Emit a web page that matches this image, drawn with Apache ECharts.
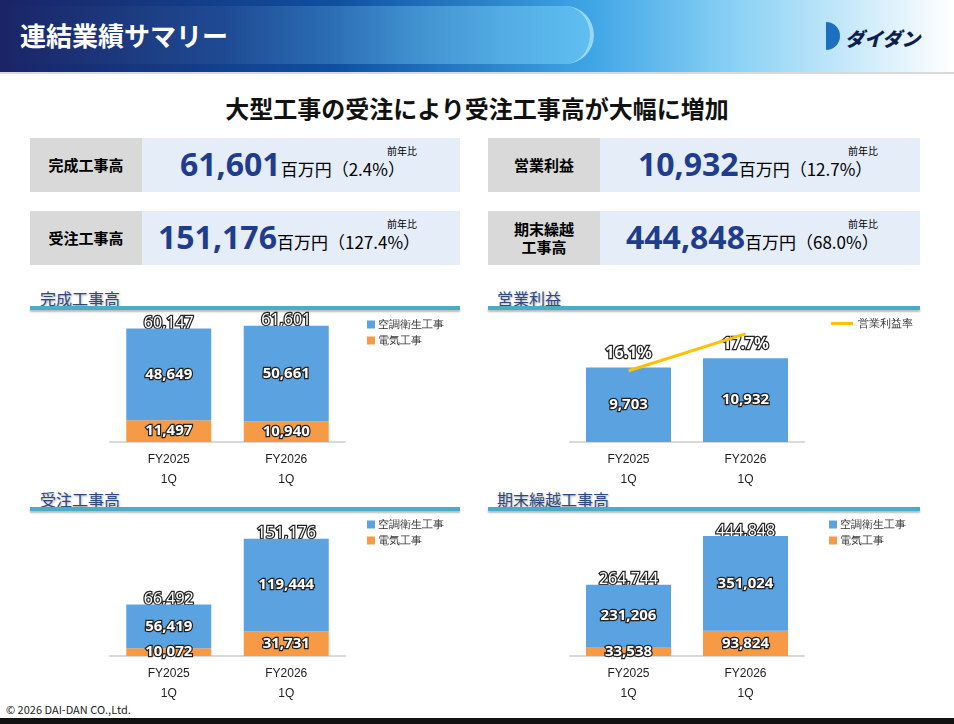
<!DOCTYPE html>
<html><head><meta charset="utf-8">
<script src="https://cdn.jsdelivr.net/npm/echarts@6/dist/echarts.min.js"></script>
<style>
body{margin:0;width:954px;height:724px;position:relative;background:#fff;font-family:"Noto Sans CJK JP","Noto Sans",sans-serif;overflow:hidden}
.abs{position:absolute}
#hdr{left:0;top:0;width:954px;height:72px;background:linear-gradient(90deg,#1a2466 0%,#0f4fa0 35%,#3fa6e6 62%,#8fd3f5 78%,#ffffff 100%);border-bottom:2px solid #d8d8d8}
#pill{left:-20px;top:6px;width:610px;height:58px;border-radius:0 30px 30px 0;background:linear-gradient(90deg,rgba(255,255,255,0) 0%,rgba(255,255,255,0.05) 40%,rgba(110,200,245,0.7) 100%);border-right:4px solid rgba(160,220,250,0.9)}
.kl{background:#d9d9d9;font-weight:bold;font-size:15px;color:#000;display:flex;align-items:center;justify-content:center;text-align:center;line-height:18px}
.kv{background:#e4edf8}
.big{font-weight:bold;color:#1f3d8c;font-size:32px;font-family:"Noto Sans","Noto Sans CJK JP",sans-serif}
.unit{font-size:17px;color:#000}
.zs{font-size:10px;color:#000}
.st{font-size:16px;color:#2f4a80;text-shadow:1px 1px 2px #aaa}
.tl{height:4px;background:#4bacc6;box-shadow:0 2px 2px #bbb}
</style></head><body>
<div id="hdr" class="abs"></div>
<div id="pill" class="abs"></div>
<div class="abs" style="left:20px;top:16px;color:#fff;font-size:26px;font-weight:bold">連結業績サマリー</div>
<div class="abs" style="left:826px;top:22px;width:14px;height:28px;background:#1d6fc0;border-radius:0 14px 14px 0"></div>
<div class="abs" style="left:845px;top:24px;color:#0f1d4f;font-size:19px;font-weight:900;font-style:italic">ダイダン</div>
<div class="abs" style="left:0;top:90px;width:954px;text-align:center;font-size:24px;font-weight:bold;color:#111">大型工事の受注により受注工事高が大幅に増加</div>

<div class="abs kl" style="left:30px;top:138px;width:112px;height:54px">完成工事高</div>
<div class="abs kv" style="left:142px;top:138px;width:318px;height:54px"></div>
<div class="abs zs" style="left:387px;top:143px">前年比</div>
<div class="abs" style="left:180px;top:142px"><span class="big">61,601</span><span class="unit">百万円（2.4%）</span></div>

<div class="abs kl" style="left:30px;top:211px;width:112px;height:54px">受注工事高</div>
<div class="abs kv" style="left:142px;top:211px;width:318px;height:54px"></div>
<div class="abs zs" style="left:387px;top:216px">前年比</div>
<div class="abs" style="left:158px;top:215px"><span class="big">151,176</span><span class="unit">百万円（127.4%）</span></div>

<div class="abs kl" style="left:488px;top:138px;width:112px;height:54px">営業利益</div>
<div class="abs kv" style="left:600px;top:138px;width:320px;height:54px"></div>
<div class="abs zs" style="left:848px;top:143px">前年比</div>
<div class="abs" style="left:638px;top:142px"><span class="big">10,932</span><span class="unit">百万円（12.7%）</span></div>

<div class="abs kl" style="left:488px;top:211px;width:112px;height:54px">期末繰越<br>工事高</div>
<div class="abs kv" style="left:600px;top:211px;width:320px;height:54px"></div>
<div class="abs zs" style="left:848px;top:216px">前年比</div>
<div class="abs" style="left:626px;top:215px"><span class="big">444,848</span><span class="unit">百万円（68.0%）</span></div>

<div class="abs st" style="left:40px;top:286px">完成工事高</div><div class="abs tl" style="left:30px;top:306px;width:430px"></div>
<div class="abs st" style="left:497px;top:286px">営業利益</div><div class="abs tl" style="left:488px;top:306px;width:432px"></div>
<div class="abs st" style="left:40px;top:487px">受注工事高</div><div class="abs tl" style="left:30px;top:507px;width:430px"></div>
<div class="abs st" style="left:497px;top:487px">期末繰越工事高</div><div class="abs tl" style="left:488px;top:507px;width:432px"></div>

<div class="abs" style="left:6px;top:701px;font-size:11px;color:#222">© 2026 DAI-DAN CO.,Ltd.</div>
<div class="abs" style="left:0;top:718px;width:954px;height:6px;background:#111"></div>

<div id="c" class="abs" style="left:0;top:0;width:954px;height:724px"></div>
<script>
const categories=["FY2025\n1Q","FY2026\n1Q"];
const kanseiHVAC=[48649,50661], kanseiElec=[11497,10940], kanseiTotal=[60147,61601];
const juchuHVAC=[56419,119444], juchuElec=[10072,31731], juchuTotal=[66492,151176];
const kurikoshiHVAC=[231206,351024], kurikoshiElec=[33538,93824], kurikoshiTotal=[264744,444848];
const eigyoRieki=[9703,10932], eigyoRate=[16.1,17.7];
const BLUE='#5ba3e0', ORANGE='#f79a45';
const lab={show:true,color:'#fff',textBorderColor:'#222',textBorderWidth:2.5,fontWeight:'bold',fontSize:15,fontFamily:'Noto Sans'};
const fmt=p=>p.value.toLocaleString('en-US');
const grids=[
 {left:110,width:235,top:310,bottom:282},
 {left:570,width:234,top:327,bottom:282},
 {left:110,width:235,top:532,bottom:68},
 {left:570,width:234,top:532,bottom:68}];
const maxes=[70000,15000,160000,460000];
const xAxis=grids.map((g,i)=>({gridIndex:i,type:'category',data:categories,axisTick:{show:false},axisLine:{lineStyle:{color:'#d9d9d9',width:2}},axisLabel:{color:'#222',fontSize:12,lineHeight:20,margin:8}}));
const yAxis=grids.map((g,i)=>({gridIndex:i,type:'value',min:0,max:maxes[i],show:false,splitLine:{show:false}}));
yAxis.push({gridIndex:1,type:'value',min:13,max:18,show:false,splitLine:{show:false}});
const series=[];
function stacked(i,h,e,t){
 series.push({type:'bar',name:'電気工事',xAxisIndex:i,yAxisIndex:i,stack:'s'+i,data:e,barWidth:85,itemStyle:{color:ORANGE},label:{...lab,position:'inside',formatter:fmt}});
 series.push({type:'bar',name:'空調衛生工事',xAxisIndex:i,yAxisIndex:i,stack:'s'+i,data:h,barWidth:85,itemStyle:{color:BLUE},label:{...lab,position:'inside',formatter:fmt}});
 series.push({type:'bar',name:'total',xAxisIndex:i,yAxisIndex:i,data:t,barWidth:85,barGap:'-100%',z:1,itemStyle:{color:'rgba(0,0,0,0)'},label:{...lab,fontWeight:'normal',fontSize:16,position:'top',distance:-3,formatter:fmt}});
}
stacked(0,kanseiHVAC,kanseiElec,kanseiTotal);
stacked(2,juchuHVAC,juchuElec,juchuTotal);
stacked(3,kurikoshiHVAC,kurikoshiElec,kurikoshiTotal);
series.push({type:'bar',name:'営業利益',xAxisIndex:1,yAxisIndex:1,data:eigyoRieki,barWidth:85,itemStyle:{color:BLUE},label:{...lab,position:'inside',formatter:fmt}});
series.push({type:'bar',name:'rlabel',xAxisIndex:1,yAxisIndex:1,data:eigyoRieki,barWidth:85,barGap:'-100%',z:1,itemStyle:{color:'rgba(0,0,0,0)'},label:{...lab,fontSize:16,position:'top',distance:6,formatter:p=>eigyoRate[p.dataIndex].toFixed(1)+'%'}});
series.push({type:'line',name:'営業利益率',xAxisIndex:1,yAxisIndex:4,data:eigyoRate,z:5,symbol:'none',lineStyle:{color:'#ffc000',width:3}});
const lg={orient:'vertical',itemWidth:8,itemHeight:8,itemGap:5,textStyle:{fontSize:11,color:'#333',padding:[0,0,0,-2]},icon:'rect',data:['空調衛生工事','電気工事'],selectedMode:false};
echarts.init(document.getElementById('c')).setOption({animation:false,grid:grids,xAxis,yAxis,series,
 legend:[{...lg,left:362,top:314},{...lg,left:824,top:514},
  {...lg,left:362,top:514},
  {selectedMode:false,left:826,top:313,itemWidth:22,itemHeight:3,icon:'rect',data:[{name:'営業利益率',itemStyle:{color:'#ffc000'}}],textStyle:{fontSize:11,color:'#333'}}]});
</script></body></html>
